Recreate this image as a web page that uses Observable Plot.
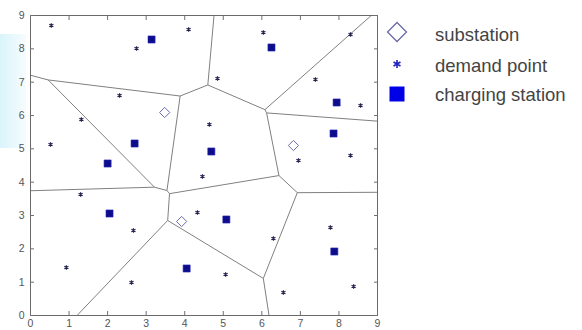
<!DOCTYPE html>
<html><head><meta charset="utf-8">
<script src="https://cdn.jsdelivr.net/npm/d3@7"></script>
<script src="https://cdn.jsdelivr.net/npm/@observablehq/plot@0.6"></script>
<style>
html,body{margin:0;padding:0;background:#fff;}
#wrap{position:relative;width:582px;height:330px;overflow:hidden;background:#fff;}
#tint{position:absolute;left:0;top:34px;width:26px;height:114px;background:linear-gradient(to right,#daf4fb,#f6fcfe);}
#chart{position:absolute;left:0;top:0;}
#legend{position:absolute;left:0;top:0;}
</style></head><body>
<div id="wrap"><div id="tint"></div><div id="chart"></div><svg id="legend" width="582" height="330"></svg></div>
<script>
// charging stations
const stationX = [3.14, 6.25, 7.94, 7.86, 2.70, 2.00, 4.69, 2.05, 5.08, 4.05, 7.88];
const stationY = [8.28, 8.04, 6.39, 5.46, 5.16, 4.56, 4.92, 3.06, 2.88, 1.41, 1.92];
// demand points
const demandX = [0.54, 2.75, 4.10, 6.04, 8.30, 2.31, 4.85, 7.39, 1.32, 0.52, 4.64, 8.56, 6.95, 4.46, 8.30, 1.30, 2.67, 4.33, 6.30, 7.78, 0.93, 2.62, 5.06, 6.56, 8.38];
const demandY = [8.70, 8.01, 8.58, 8.49, 8.43, 6.60, 7.11, 7.08, 5.88, 5.13, 5.73, 6.30, 4.65, 4.17, 4.80, 3.63, 2.55, 3.09, 2.31, 2.64, 1.44, 0.99, 1.23, 0.69, 0.87];
// substations
const subX = [3.48, 6.82, 3.92];
const subY = [6.09, 5.10, 2.82];
// axis ticks
const tickValues = [0, 1, 2, 3, 4, 5, 6, 7, 8, 9];
// legend
const legendLabels = ["substation", "demand point", "charging station"];

const stations = stationX.map((x, i) => ({x, y: stationY[i]}));
const demand = demandX.map((x, i) => ({x, y: demandY[i]}));
const subs = subX.map((x, i) => ({x, y: subY[i]}));

// Voronoi diagram of the charging stations, computed in data space
const vor = d3.Delaunay.from(stations, d => d.x, d => d.y).voronoi([0, 0, 9, 9]);
const edges = [];
let cur = null;
vor.render({
  moveTo(x, y) { cur = [x, y]; },
  lineTo(x, y) { edges.push({x1: cur[0], y1: cur[1], x2: x, y2: y}); cur = [x, y]; },
  closePath() {}
});

const axisStyle = {ticks: tickValues, label: null, fontSize: 10.5, fill: "#555"};
const tickStyle = {ticks: tickValues, label: null, tickSize: -4, tickFormat: () => "", stroke: "#707070"};

const chart = Plot.plot({
  width: 582, height: 330,
  marginLeft: 30, marginRight: 205, marginTop: 15, marginBottom: 15,
  x: {domain: [0, 9]},
  y: {domain: [0, 9]},
  style: {background: "transparent", fontFamily: "'Liberation Sans', Arial, sans-serif"},
  marks: [
    Plot.link(edges, {x1: "x1", y1: "y1", x2: "x2", y2: "y2", stroke: "#808080", strokeWidth: 1}),
    Plot.frame({stroke: "#6a6a6a"}),
    Plot.axisX({...axisStyle, anchor: "bottom", tickSize: 0, tickPadding: 4}),
    Plot.axisY({...axisStyle, anchor: "left", tickSize: 0, tickPadding: 6}),
    Plot.axisX({...tickStyle, anchor: "bottom"}),
    Plot.axisX({...tickStyle, anchor: "top"}),
    Plot.axisY({...tickStyle, anchor: "left"}),
    Plot.axisY({...tickStyle, anchor: "right"}),
    Plot.dot(demand, {x: "x", y: "y", symbol: "asterisk", r: 2.2, stroke: "#23234e", strokeWidth: 1.2}),
    Plot.dot(stations, {x: "x", y: "y", symbol: "square", r: 4, fill: "#0c0c8c", stroke: "#2a2ab4", strokeWidth: 0.6}),
    Plot.dot(subs, {x: "x", y: "y", symbol: "diamond2", r: 4.6, fill: "none", stroke: "#6a6aa8", strokeWidth: 1})
  ]
});
document.getElementById("chart").appendChild(chart);

// legend to the right of the axes
const lg = d3.select("#legend");
const symbols = [
  {sym: d3.symbolDiamond2, size: 230, fill: "none", stroke: "#6a6aa8", sw: 1.3, cy: 32},
  {sym: d3.symbolAsterisk, size: 45, fill: "none", stroke: "#2323c0", sw: 1.6, cy: 64},
  {sym: d3.symbolSquare, size: 225, fill: "#0000e6", stroke: "none", sw: 0, cy: 94}
];
const baselines = [41, 72, 101];
legendLabels.forEach((label, i) => {
  const s = symbols[i];
  lg.append("path")
    .attr("d", d3.symbol(s.sym, s.size)())
    .attr("transform", `translate(397,${s.cy})`)
    .attr("fill", s.fill).attr("stroke", s.stroke).attr("stroke-width", s.sw);
  lg.append("text")
    .attr("x", 435).attr("y", baselines[i])
    .attr("font-family", "'Liberation Sans', Arial, sans-serif")
    .attr("font-size", 18.5).attr("fill", "#444")
    .text(label);
});
</script>
</body></html>
